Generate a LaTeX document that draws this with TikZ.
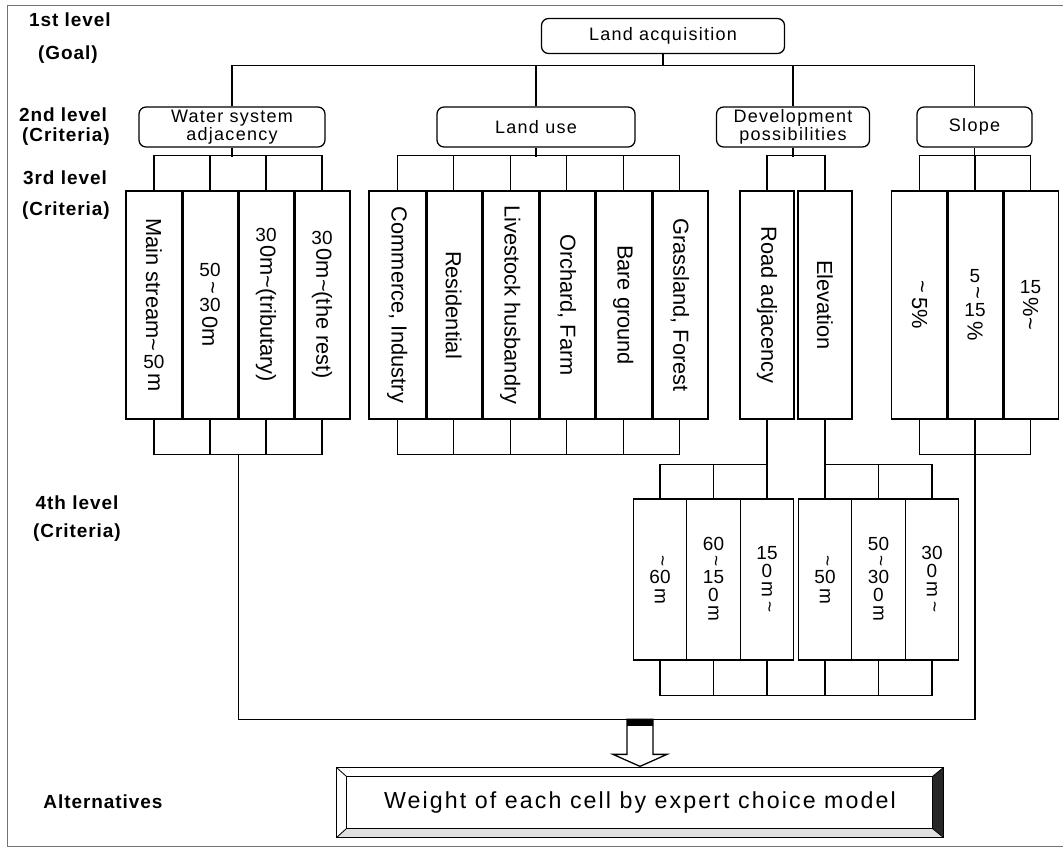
\documentclass[tikz,border=0pt]{standalone}
\usepackage{fontspec}
\usepackage{graphicx}
\setmainfont{Liberation Sans}
\newfontfamily\lvfont{Liberation Sans}[LetterSpace=5]
\newfontfamily\bxfont{Liberation Sans}[LetterSpace=7]
\newfontfamily\wtfont{Liberation Sans}[LetterSpace=9]
\usetikzlibrary{calc}

\newcommand{\rt}[1]{\rotatebox{-90}{#1}}
\newcommand{\dg}[1]{{\fontsize{13.5}{16}\selectfont #1}}
\newcommand{\tl}{\textasciitilde}

\tikzset{
  lvl/.style={font=\lvfont\bfseries\fontsize{13.5}{16}\selectfont, inner sep=0pt},
  crit/.style={draw, rounded corners=5pt, line width=0.9pt, inner sep=0pt,
    minimum width=#1*0.025cm, minimum height=40*0.025cm, align=center,
    font=\bxfont\fontsize{12.8}{11.6}\selectfont},
  cell/.style={draw, line width=0.9pt, inner sep=0pt, minimum width=#1*0.025cm,
    minimum height=228*0.025cm, font=\fontsize{15.5}{18}\selectfont},
  cellb/.style={draw, line width=0.9pt, inner sep=0pt, minimum width=53.5*0.025cm,
    minimum height=161*0.025cm, font=\fontsize{13.5}{16}\selectfont},
  divide/.style={line width=2pt}
}

\begin{document}
\begin{tikzpicture}[x=0.025cm, y=-0.025cm, line width=0.9pt]
  \useasboundingbox (0,0) rectangle (1063,849);
  \draw[black!55, line width=0.6pt] (1063,5) -- (7,5) -- (7,846) -- (1063,846);

  % level names
  \node[lvl] (l1a) at (70,20) {1st level};
  \node[lvl] (l1b) at (68,55) {(Goal)};
  \node[lvl] (l2a) at (63,115) {2nd level};
  \node[lvl] (l2b) at (66,137) {(Criteria)};
  \node[lvl] (l3a) at (65,178) {3rd level};
  \node[lvl] (l3b) at (66,211) {(Criteria)};
  \node[lvl] (l4a) at (77,503) {4th level};
  \node[lvl] (l4b) at (77,533) {(Criteria)};
  \node[lvl] (alt) at (103,802) {Alternatives};

  % goal and criteria
  \node[crit=243, minimum height=35*0.025cm] (goal) at (663,36) {Land acquisition};
  \node[crit=186] (wat) at (232,127) {Water system\\adjacency};
  \node[crit=198] (lu)  at (536,127) {Land use};
  \node[crit=153] (dev) at (793,127) {Development\\possibilities};
  \node[crit=115] (slp) at (974.5,127) {Slope};

  \draw (goal.south) -- ++(0,11) coordinate (gbus);
  \draw (wat.north) -- (wat.north |- gbus) -- (slp.north |- gbus) -- (slp.north);
  \draw (lu.north) -- (lu.north |- gbus);
  \draw (dev.north) -- (dev.north |- gbus);

  % 3rd level
  \node[cell=56] (w1) at (154,305) {\shortstack{\rt{Main stream\tl}\\\dg{50}\\\rt{m}}};
  \node[cell=56] (w2) at (210,305) {\shortstack{\dg{50}\\\rt{\tl}\\\dg{30}\\\rt{0m}}};
  \node[cell=56] (w3) at (266,305) {\shortstack{\dg{30}\\\rt{0m\tl(tributary)}}};
  \node[cell=56] (w4) at (322,305) {\shortstack{\dg{30}\\\rt{0m\tl(the rest)}}};

  \node[cell=56.5] (u1) at (397.25,305) {\rt{Commerce, Industry}};
  \node[cell=56.5] (u2) at (453.75,305) {\rt{Residential}};
  \node[cell=56.5] (u3) at (510.25,305) {\rt{Livestock husbandry}};
  \node[cell=56.5] (u4) at (566.75,305) {\rt{Orchard, Farm}};
  \node[cell=56.5] (u5) at (623.25,305) {\rt{Bare ground}};
  \node[cell=56.5] (u6) at (679.75,305) {\rt{Grassland, Forest}};

  \node[cell=54] (d1) at (767,305) {\rt{Road adjacency}};
  \node[cell=54] (d2) at (825,305) {\rt{Elevation}};

  \node[cell=55.5] (s1) at (919.5,305) {\shortstack{\rt{\tl}\\\rt{5\%}}};
  \node[cell=55.5] (s2) at (975,305)   {\shortstack{\dg{5}\\\rt{\tl}\\\dg{15}\\\rt{\%}}};
  \node[cell=55.5] (s3) at (1030.5,305) {\shortstack{\dg{15}\\\rt{\%\tl}}};

  \foreach \a in {w1,w2,w3,u1,u2,u3,u4,u5,s1,s2}
    \draw[divide] (\a.north east) -- (\a.south east);

  \draw (wat.south) -- ++(0,9);
  \draw (w1.north) -- ++(0,-35) -| (w4.north);
  \draw (w2.north) -- ++(0,-35);
  \draw (w3.north) -- ++(0,-35);
  \draw (w1.south) -- ++(0,35) -| (w4.south);
  \draw (w2.south) -- ++(0,35);
  \draw (w3.south) -- ++(0,35);

  \draw (lu.south) -- ++(0,9);
  \draw (u1.north) -- ++(0,-35) -| (u6.north);
  \foreach \a in {u2,u3,u4,u5} \draw (\a.north) -- ++(0,-35);
  \draw (u1.south) -- ++(0,35) -| (u6.south);
  \foreach \a in {u2,u3,u4,u5} \draw (\a.south) -- ++(0,35);

  \draw (dev.south) -- ++(0,9);
  \draw (d1.north) -- ++(0,-35) -| (d2.north);

  \draw (slp.south) -- ++(0,9);
  \draw (s1.north) -- ++(0,-35) -| (s3.north);
  \draw (s2.north) -- ++(0,-35);
  \draw (s1.south) -- ++(0,35) -| (s3.south);

  % 4th level
  \node[cellb] (a1) at (660,579.5)   {\shortstack{\rt{\tl}\\60\\\rt{m}}};
  \node[cellb] (a2) at (713.5,579.5) {\shortstack{60\\\rt{\tl}\\15\\0\\\rt{m}}};
  \node[cellb] (a3) at (767,579.5)   {\shortstack{15\\0\\\rt{m}\\\rt{\tl}}};
  \node[cellb] (b1) at (825,579.5)   {\shortstack{\rt{\tl}\\50\\\rt{m}}};
  \node[cellb] (b2) at (878.5,579.5) {\shortstack{50\\\rt{\tl}\\30\\0\\\rt{m}}};
  \node[cellb] (b3) at (932,579.5)   {\shortstack{30\\0\\\rt{m}\\\rt{\tl}}};

  \draw (d1.south) -- (a3.north);
  \draw (d2.south) -- (b1.north);
  \draw (a1.north) -- ++(0,-34) -| (a3.north);
  \draw (a2.north) -- ++(0,-34);
  \draw (b3.north) -- ++(0,-34) -| (b1.north);
  \draw (b2.north) -- ++(0,-34);
  \draw (a1.south) -- ++(0,35) -| (b3.south);
  \foreach \a in {a2,a3,b1,b2} \draw (\a.south) -- ++(0,35);

  % to the alternatives
  \draw (w2.south east) ++(0,35) -- ++(0,265) -| (s2.south);

  \node[minimum width=606*0.025cm, minimum height=69*0.025cm, inner sep=0pt,
    font=\wtfont\fontsize{16.5}{18}\selectfont] (wt) at (640,802.5)
    {Weight of each cell by expert choice model};
  \fill[black!85] (wt.north east) -- ($(wt.north east)+(-11,9)$)
    -- ($(wt.south east)+(-11,-9)$) -- (wt.south east) -- cycle;
  \fill[black!12] (wt.south west) -- ($(wt.south west)+(10,-9)$)
    -- ($(wt.south east)+(-11,-9)$) -- (wt.south east) -- cycle;
  \draw (wt.south west) rectangle (wt.north east);
  \draw ($(wt.south west)+(10,-9)$) rectangle ($(wt.north east)+(-11,9)$);
  \draw[line width=0.6pt] (wt.north west) -- ++(10,9);
  \draw[line width=0.6pt] (wt.south west) -- ++(10,-9);
  \draw[line width=0.6pt] (wt.north east) -- ++(-11,9);
  \draw[line width=0.6pt] (wt.south east) -- ++(-11,-9);

  \draw[fill=white] ($(wt.north)+(-13,-48)$) -- ++(0,35) -- ++(-14,0)
    -- ($(wt.north)+(0,-1)$) -- ($(wt.north)+(27,-13)$) -- ++(-14,0)
    -- ++(0,-35) -- cycle;
  \fill ($(wt.north)+(-13,-48)$) rectangle ($(wt.north)+(13,-41)$);
\end{tikzpicture}
\end{document}
